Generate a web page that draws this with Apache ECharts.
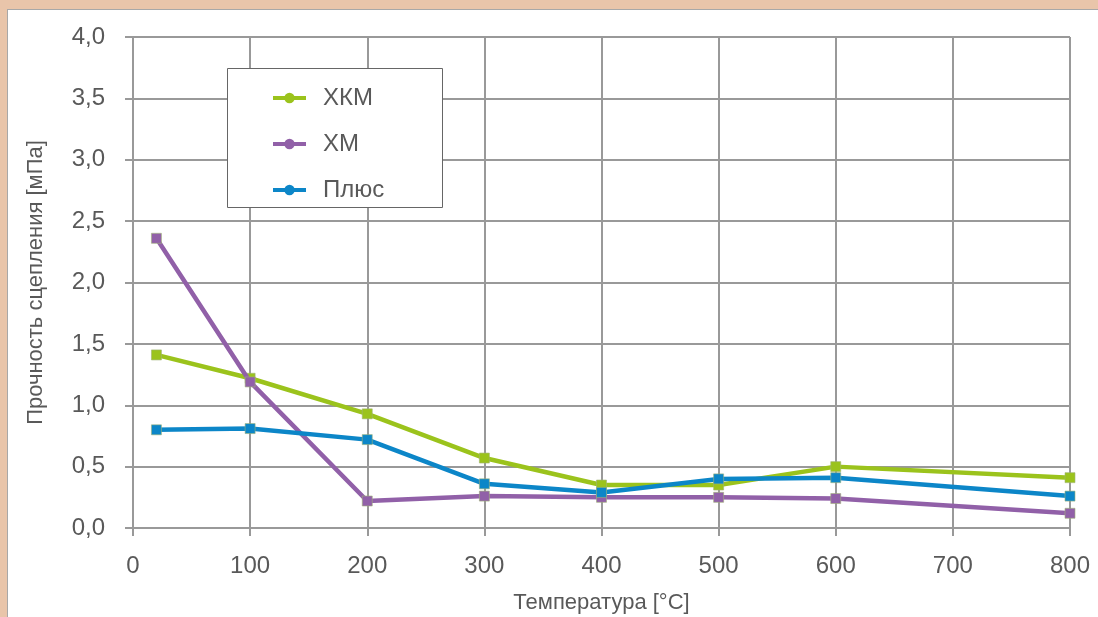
<!DOCTYPE html>
<html><head><meta charset="utf-8">
<script src="https://cdn.jsdelivr.net/npm/echarts@6/dist/echarts.min.js"></script>
<style>
html,body{margin:0;padding:0;background:#e9c5aa;width:1098px;height:617px;overflow:hidden;}
#c{position:absolute;left:7px;top:9px;width:1091px;height:608px;background:#fff;border-left:1px solid #a8a8a8;border-top:1px solid #a8a8a8;box-sizing:border-box;}
</style></head>
<body><div id="c"></div>
<script>
const temps = [20, 100, 200, 300, 400, 500, 600, 800];
const seriesNames = ['ХКМ', 'ХМ', 'Плюс'];
const hkm  = [1.41, 1.22, 0.93, 0.57, 0.35, 0.35, 0.50, 0.41];
const hm   = [2.36, 1.19, 0.22, 0.26, 0.25, 0.25, 0.24, 0.12];
const plus = [0.80, 0.81, 0.72, 0.36, 0.29, 0.40, 0.41, 0.26];
const xAxisName = 'Температура [°C]';
const yAxisName = 'Прочность сцепления [мПа]';

const colors = ['#9bc31c', '#9160a8', '#0c86c8'];
const values = [hkm, hm, plus];
const font = 'Liberation Sans, Arial, sans-serif';

const chart = echarts.init(document.getElementById('c'));
const series = [];
// legend-icon carriers (empty), then real data series
seriesNames.forEach((n, i) => {
  series.push({name: n, type: 'line', data: [], symbol: 'circle', color: colors[i],
    lineStyle: {width: 4, color: colors[i]}, itemStyle: {color: colors[i]}});
});
seriesNames.forEach((n, i) => {
  series.push({
    name: n, type: 'line', color: colors[i],
    data: temps.map((t, k) => [t, values[i][k]]),
    symbol: 'rect', symbolSize: 10, showSymbol: true,
    lineStyle: {width: 4.5, color: colors[i]},
    itemStyle: {color: colors[i], borderColor: 'rgba(160,180,120,0.6)', borderWidth: 1},
    z: 3 + i
  });
});

chart.setOption({
  animation: false,
  backgroundColor: '#fff',
  textStyle: {fontFamily: font},
  grid: {left: 125, top: 27, right: 28, bottom: 89, outerBoundsMode: 'none', containLabel: false},
  graphic: [{type: 'rect', left: 219, top: 58, shape: {width: 215, height: 139},
    style: {fill: '#fff', stroke: '#666', lineWidth: 1}, z: 10}],
  legend: {
    orient: 'vertical', left: 258, top: 71, z: 11,
    itemWidth: 33, itemHeight: 13, itemGap: 22,
    data: seriesNames,
    lineStyle: {width: 4},
    textStyle: {fontSize: 24, color: '#595959', fontFamily: font, padding: [0, 0, 0, 12]}
  },
  xAxis: {
    type: 'value', min: 0, max: 800, interval: 100,
    name: xAxisName, nameLocation: 'middle', nameGap: 64,
    nameTextStyle: {fontSize: 22, color: '#595959'},
    axisLine: {show: true, lineStyle: {color: '#999', width: 2}},
    axisTick: {show: true, length: 8, lineStyle: {color: '#999', width: 2}},
    axisLabel: {fontSize: 24, color: '#595959', margin: 26},
    splitLine: {show: true, lineStyle: {color: '#999', width: 2}}
  },
  yAxis: {
    type: 'value', min: 0, max: 4, interval: 0.5,
    name: yAxisName, nameLocation: 'middle', nameGap: 86,
    nameTextStyle: {fontSize: 22, color: '#595959'},
    axisLine: {show: true, lineStyle: {color: '#999', width: 2}},
    axisTick: {show: true, length: 8, lineStyle: {color: '#999', width: 2}},
    axisLabel: {fontSize: 24, color: '#595959', margin: 28,
      formatter: v => v.toFixed(1).replace('.', ',')},
    splitLine: {show: true, lineStyle: {color: '#999', width: 2}}
  },
  series: series
});
</script></body></html>
